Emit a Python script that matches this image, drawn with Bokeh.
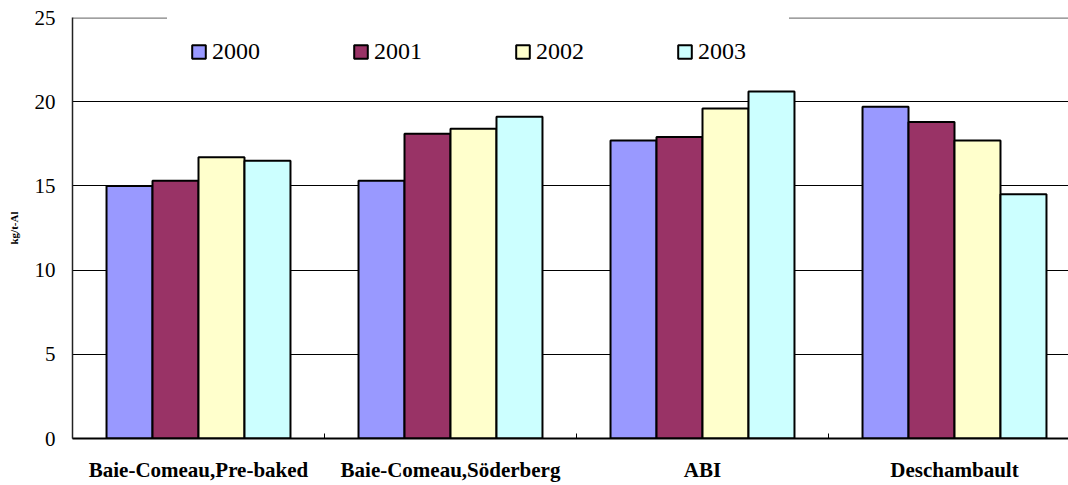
from bokeh.plotting import figure
from bokeh.models import Range1d, FixedTicker, Span, Legend, LegendItem, ColumnDataSource
from bokeh.embed import file_html
from bokeh.resources import INLINE

categories = ["Baie-Comeau,Pre-baked", "Baie-Comeau,Söderberg", "ABI", "Deschambault"]
years = ["2000", "2001", "2002", "2003"]
v2000 = [15.0, 15.3, 17.7, 19.7]
v2001 = [15.3, 18.1, 17.9, 18.8]
v2002 = [16.7, 18.4, 19.6, 17.7]
v2003 = [16.5, 19.1, 20.6, 14.5]
series = [v2000, v2001, v2002, v2003]
colors = ["#9999FF", "#993366", "#FFFFCC", "#CCFFFF"]
y_ticks = [0, 5, 10, 15, 20, 25]

FONT = "Liberation Serif"
bar_w = 0.1825

p = figure(width=1068, height=485, output_backend="svg", toolbar_location=None,
           x_range=Range1d(0, 996 / 252), y_range=Range1d(0, 25),
           min_border_left=72, min_border_right=0, min_border_top=17, min_border_bottom=47)
p.outline_line_color = None
p.background_fill_color = "white"
p.border_fill_color = "white"

centers = [i + 0.5 for i in range(len(categories))]
renderers = []
for k, (yr, vals, col) in enumerate(zip(years, series, colors)):
    off = (k - 1.5) * bar_w
    src = ColumnDataSource(dict(x=[c + off for c in centers], top=vals))
    r = p.vbar(x="x", top="top", width=bar_w, bottom=0, source=src,
               fill_color=col, line_color="black", line_width=2)
    renderers.append(r)

p.xgrid.visible = False
p.ygrid.ticker = FixedTicker(ticks=[5, 10, 15, 20])
p.ygrid.grid_line_color = "black"
p.ygrid.grid_line_width = 1
p.ygrid.level = "underlay"
top_line = Span(location=25, dimension="width", line_color="#808080", line_width=2.5, level="underlay")
p.add_layout(top_line)

yax = p.yaxis[0]
yax.ticker = FixedTicker(ticks=y_ticks)
yax.major_tick_in = 0
yax.major_tick_out = 0
yax.minor_tick_line_color = None
yax.axis_line_color = "#222222"
yax.axis_line_width = 1.5
yax.major_label_text_font = FONT
yax.major_label_text_font_size = "21px"
yax.major_label_text_color = "black"
yax.major_label_standoff = 17
yax.axis_label = "kg/t-Al"
yax.axis_label_text_font = FONT
yax.axis_label_text_font_style = "bold"
yax.axis_label_text_font_size = "11px"
yax.axis_label_text_color = "black"
yax.axis_label_standoff = 12

xax = p.xaxis[0]
xax.ticker = FixedTicker(ticks=centers, minor_ticks=[0, 1, 2, 3])
xax.major_label_overrides = {c: name for c, name in zip(centers, categories)}
xax.major_tick_line_color = None
xax.minor_tick_in = 5
xax.minor_tick_out = 0
xax.minor_tick_line_color = "black"
xax.axis_line_color = "black"
xax.axis_line_width = 2
xax.major_label_text_font = FONT
xax.major_label_text_font_style = "bold"
xax.major_label_text_font_size = "21px"
xax.major_label_text_color = "black"
xax.major_label_standoff = 13

items = [LegendItem(label=yr, renderers=[r]) for yr, r in zip(years, renderers)]
legend = Legend(items=items, orientation="horizontal", location=(95, 350),
                glyph_width=17, glyph_height=17, label_standoff=5,
                label_width=68, spacing=72, padding=22,
                label_text_font=FONT, label_text_font_size="24px",
                label_text_color="black",
                background_fill_color="white", background_fill_alpha=1.0,
                border_line_color="white", border_line_width=1, margin=0)
p.add_layout(legend)

open("out.html", "w").write(file_html(p, INLINE))
